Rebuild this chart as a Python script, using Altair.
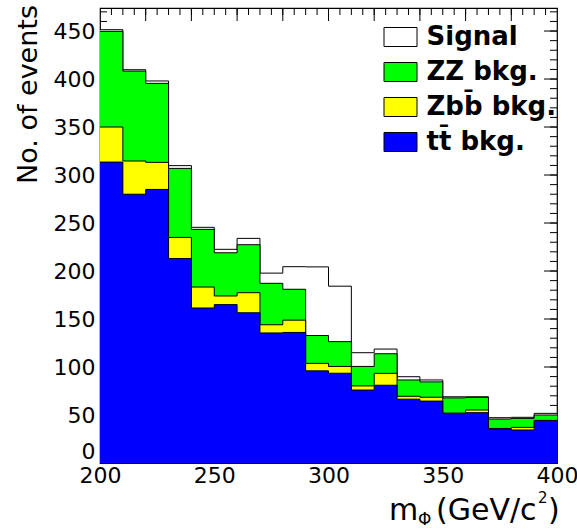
import altair as alt
import pandas as pd

# ---- data ----
bin_low = list(range(200, 400, 10))
bin_high_end = 400
tt_bkg = [313.5, 280.0, 285.0, 213.0, 161.5, 165.0, 156.5, 135.5, 136.0, 96.0,
          93.5, 76.0, 81.0, 66.5, 64.5, 51.3, 52.4, 35.4, 34.4, 44.1]
zbb_bkg = [36.5, 34.6, 28.2, 22.0, 21.8, 9.0, 20.9, 8.5, 12.8, 7.8,
           7.1, 4.3, 12.4, 3.0, 4.0, 0.7, 2.8, 0.6, 2.7, 0.3]
zz_bkg = [99.7, 93.7, 82.3, 71.9, 60.1, 45.0, 50.0, 43.2, 32.2, 29.0,
          25.8, 20.3, 20.4, 17.0, 16.0, 15.8, 13.2, 9.8, 9.4, 5.6]
signal = [1.7, 1.4, 2.5, 2.9, 2.1, 3.6, 6.6, 10.6, 23.5, 71.5,
          57.8, 14.3, 4.9, 3.4, 2.0, 1.2, 0.6, 1.4, 1.1, 1.7]

names = ["Signal", "ZZ bkg.", "Zb\u0062\u0304 bkg.", "t\u0074\u0304 bkg."]
colors = ["#ffffff", "#00ff00", "#ffff00", "#0000ff"]

x_labels = [200, 250, 300, 350, 400]
y_labels = [0, 50, 100, 150, 200, 250, 300, 350, 400, 450]
x_minor_ticks = list(range(205, 400, 5))
x_major_ticks = list(range(220, 400, 20))
y_minor_ticks = list(range(10, 474, 10))
y_major_ticks = list(range(50, 474, 50))

W, H = 457, 455
FONT = "DejaVu Sans"

# ---- stacked cumulative tops (THStack style) ----
comps = [tt_bkg, zbb_bkg, zz_bkg, signal]
cum = []
run = [0.0] * len(bin_low)
for c in comps:
    run = [a + b for a, b in zip(run, c)]
    cum.append(run)
tops = {names[3]: cum[0], names[2]: cum[1], names[1]: cum[2], names[0]: cum[3]}

xs = alt.Scale(domain=[200, 400], nice=False, zero=False)
ys = alt.Scale(domain=[0, 474], nice=False)
cscale = alt.Scale(domain=names, range=colors)

x_axis = alt.Axis(values=x_labels, format="d", labelFont=FONT, labelFontSize=22,
                  labelColor="black", ticks=False, tickSize=0, domain=False,
                  grid=False, labelPadding=2, labelFlush=False, title=None)
y_axis = alt.Axis(values=y_labels, format="d", labelFont=FONT, labelFontSize=22,
                  labelColor="black", ticks=False, tickSize=0, domain=False,
                  grid=False, labelPadding=5, labelFlush=True, title=None)

legend = alt.Legend(title=None, orient="none", legendX=283.5, legendY=12,
                    symbolType="M-1,-0.576H1V0.576H-1Z", symbolSize=1089,
                    symbolStrokeColor="black", symbolStrokeWidth=1,
                    symbolOpacity=1, labelFont=FONT, labelFontWeight="bold",
                    labelFontSize=26, labelColor="black", labelOffset=9,
                    rowPadding=5, padding=0)

def X(field):
    return alt.X(field, scale=xs, axis=x_axis)

def Y(field, **kw):
    return alt.Y(field, scale=ys, axis=y_axis, **kw)

layers = []

# inward ticks (drawn first, covered by histogram fills like in ROOT)
def tick_df(vals):
    return pd.DataFrame({"v": vals})

layers.append(alt.Chart(tick_df(x_minor_ticks)).mark_rule(color="black", strokeWidth=1).encode(
    x=X("v:Q"), y=alt.value(0), y2=alt.value(7)))
layers.append(alt.Chart(tick_df(x_major_ticks)).mark_rule(color="black", strokeWidth=1).encode(
    x=X("v:Q"), y=alt.value(0), y2=alt.value(13)))
for x0, x1, vals in [(W - 7, W, y_minor_ticks), (W - 13, W, y_major_ticks),
                     (0, 7, y_minor_ticks), (0, 13, y_major_ticks)]:
    layers.append(alt.Chart(tick_df(vals)).mark_rule(color="black", strokeWidth=1).encode(
        y=Y("v:Q"), x=alt.value(x0), x2=alt.value(x1)))

# histogram layers: signal (total) first, then ZZ, Zbb, tt on top
for nm in names:
    vals = tops[nm]
    df = pd.DataFrame({
        "x": bin_low + [bin_high_end],
        "top": vals + [vals[-1]],
        "comp": [nm] * (len(bin_low) + 1),
    })
    area = alt.Chart(df).mark_area(interpolate="step-after", opacity=1).encode(
        x=X("x:Q"),
        y=Y("top:Q", stack=None),
        fill=alt.Fill("comp:N", scale=cscale, legend=legend, sort=names),
    )
    line = alt.Chart(df).mark_line(interpolate="step-after", color="black",
                                   strokeWidth=1).encode(
        x=X("x:Q"),
        y=Y("top:Q"),
    )
    layers += [area, line]

# axis titles as text
def txt(s, x, y, size, angle=0, align="left", baseline="alphabetic"):
    return alt.Chart(pd.DataFrame({"t": [s]})).mark_text(
        font=FONT, fontSize=size, color="black", angle=angle, align=align,
        baseline=baseline).encode(text="t:N", x=alt.value(x), y=alt.value(y))

layers.append(txt("No. of events", -63, -3, 27, angle=270, align="right"))
layers.append(txt("m", 389 - 100, 520 - 8, 30))
layers.append(txt("\u03a6", 418 - 100, 525 - 8, 17))
layers.append(txt("(GeV/c", 436 - 100, 520 - 8, 30))
layers.append(txt("2", 538 - 100, 503 - 8, 15))
layers.append(txt(")", 548 - 100, 520 - 8, 30))

chart = alt.layer(*layers).properties(
    width=W, height=H, autosize="none",
    padding={"left": 100, "top": 8, "right": 20, "bottom": 67},
    background="white",
).configure_view(stroke="black", strokeWidth=1.2)

chart.save("out.html", embed_options={"renderer": "svg", "actions": False})
